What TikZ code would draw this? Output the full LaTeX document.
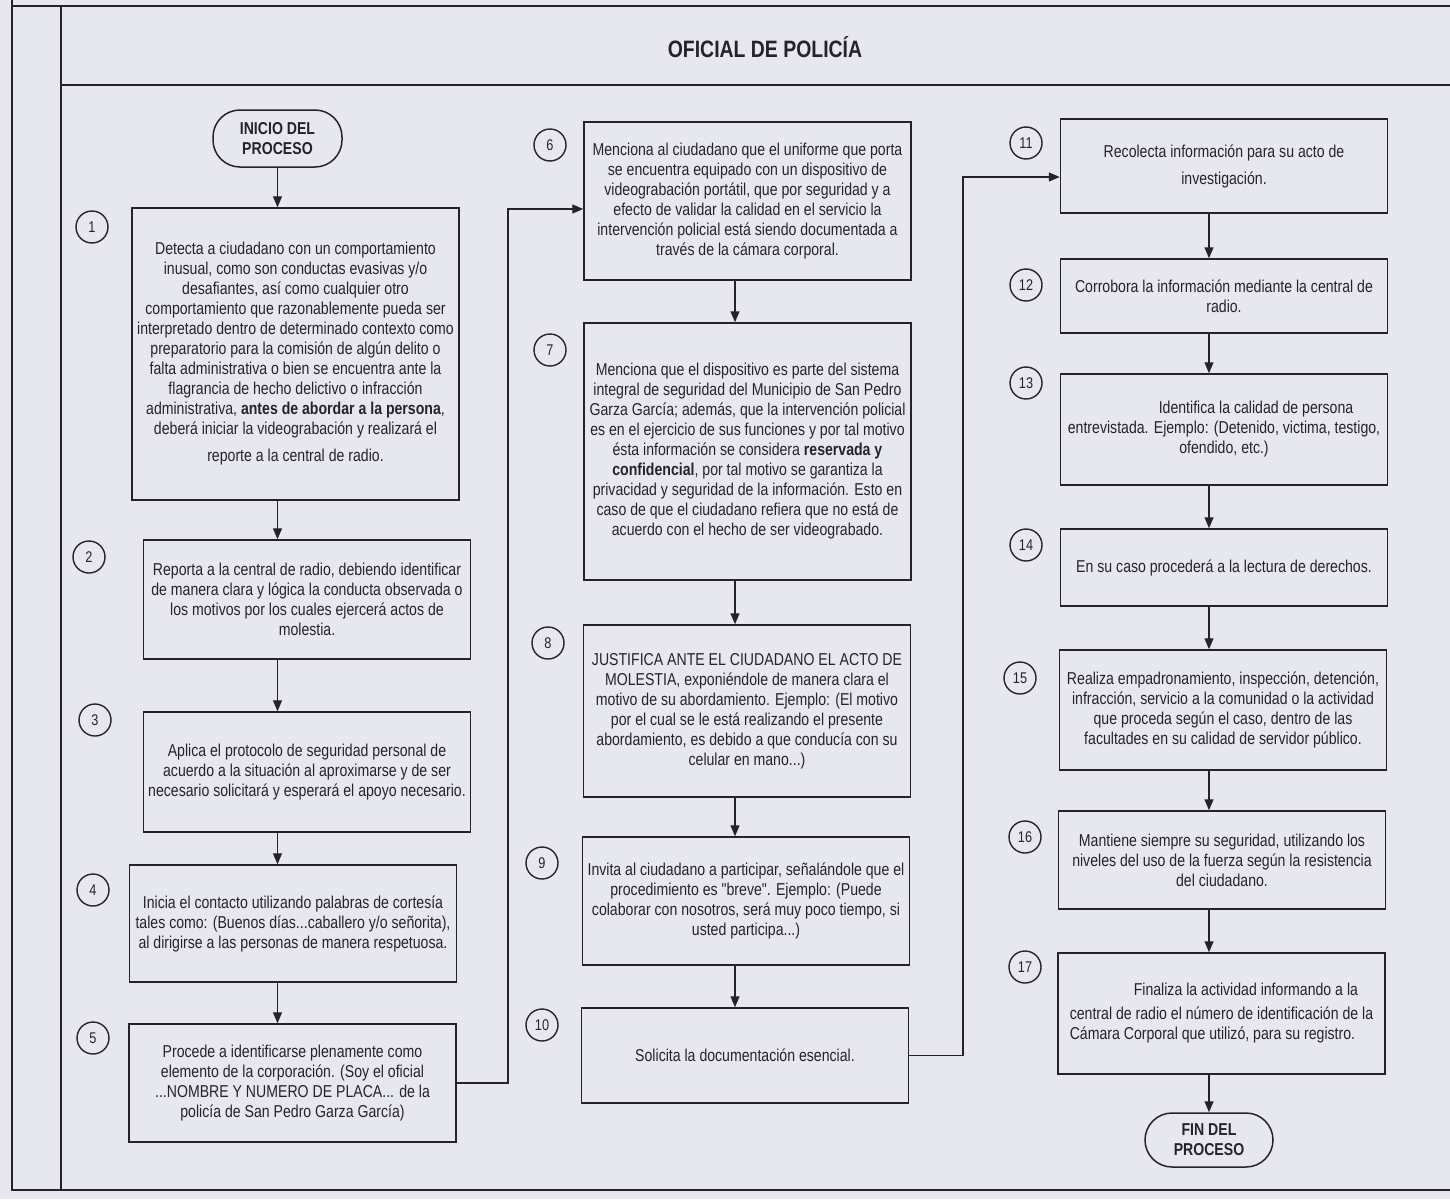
\documentclass[tikz,border=0pt]{standalone}
\usepackage{fontspec}
\setmainfont{Liberation Sans}[FakeStretch=0.82, Ligatures=TeXOff]
\usetikzlibrary{arrows.meta,calc}

\definecolor{fondo}{RGB}{231,231,239}
\definecolor{tinta}{RGB}{36,36,40}

\tikzset{
	paso/.style={draw=tinta, line width=1.5pt, minimum width=327pt, align=center,
		inner xsep=3pt, text=tinta, font=\fontsize{17.2}{20}\selectfont},
	num/.style={draw=tinta, circle, line width=1.4pt, minimum size=32pt, inner sep=0pt,
		text=tinta, font=\fontsize{15.5}{15.5}\selectfont},
	term/.style={draw=tinta, rounded corners=27pt, line width=1.5pt, align=center,
		minimum width=129pt, minimum height=57pt, text=tinta,
		font=\bfseries\fontsize{17.2}{20}\selectfont},
	flecha/.style={draw=tinta, line width=1.3pt, -{Triangle[length=11pt,width=9pt]}},
	marco/.style={draw=tinta, line width=1.8pt}
}

\begin{document}
\begin{tikzpicture}[x=1pt,y=-1pt]
	\useasboundingbox (0,0) rectangle (1450,1199);
	\fill[fondo] (0,0) rectangle (1450,1199);

	% marco de la lamina
	\draw[marco] (12,0) -- (12,1190) -- (1450,1190);
	\draw[marco] (12,6) -- (1450,6);
	\draw[marco] (61,6) -- (61,1190);
	\draw[marco] (61,85) -- (1450,85);
	\node[text=tinta, font=\bfseries\fontsize{23.7}{26}\selectfont] (titulo) at (765,47) {OFICIAL DE POLICÍA};

	% columna 1
	\node[term] (inicio) at (277.5,138.5) {INICIO DEL\\PROCESO};
	\node[paso, minimum height=292pt] (p1) at (295.5,354) {Detecta a ciudadano con un comportamiento\\
		inusual, como son conductas evasivas y/o\\
		desafiantes, así como cualquier otro\\
		comportamiento que razonablemente pueda ser\\
		interpretado dentro de determinado contexto como\\
		preparatorio para la comisión de algún delito o\\
		falta administrativa o bien se encuentra ante la\\
		flagrancia de hecho delictivo o infracción\\
		administrativa, \textbf{antes de abordar a la persona},\\
		deberá iniciar la videograbación y realizará el\\[7pt]
		reporte a la central de radio.};
	\node[paso, minimum height=119pt] (p2) at (307,599.5) {Reporta a la central de radio, debiendo identificar\\
		de manera clara y lógica la conducta observada o\\
		los motivos por los cuales ejercerá actos de\\
		molestia.};
	\node[paso, minimum height=120pt] (p3) at (307,772) {Aplica el protocolo de seguridad personal de\\
		acuerdo a la situación al aproximarse y de ser\\
		necesario solicitará y esperará el apoyo necesario.};
	\node[paso, minimum height=117pt] (p4) at (293,923.5) {Inicia el contacto utilizando palabras de cortesía\\
		tales como: (Buenos días...caballero y/o señorita),\\
		al dirigirse a las personas de manera respetuosa.};
	\node[paso, minimum height=118pt] (p5) at (292.5,1083) {Procede a identificarse plenamente como\\
		elemento de la corporación. (Soy el oficial\\
		...NOMBRE Y NUMERO DE PLACA... de la\\
		policía de San Pedro Garza García)};
	\node[num] (n1) at (92,227) {1};
	\node[num] (n2) at (89,557) {2};
	\node[num] (n3) at (95,720) {3};
	\node[num] (n4) at (93,890) {4};
	\node[num] (n5) at (93,1038) {5};

	% columna 2
	\coordinate (eje2) at (735,0);
	\node[paso, minimum height=158pt] (p6) at (747.5,201) {Menciona al ciudadano que el uniforme que porta\\
		se encuentra equipado con un dispositivo de\\
		videograbación portátil, que por seguridad y a\\
		efecto de validar la calidad en el servicio la\\
		intervención policial está siendo documentada a\\
		través de la cámara corporal.};
	\node[paso, minimum height=257pt] (p7) at (747.5,451.5) {Menciona que el dispositivo es parte del sistema\\
		integral de seguridad del Municipio de San Pedro\\
		Garza García; además, que la intervención policial\\
		es en el ejercicio de sus funciones y por tal motivo\\
		ésta información se considera \textbf{reservada y}\\
		\textbf{confidencial}, por tal motivo se garantiza la\\
		privacidad y seguridad de la información. Esto en\\
		caso de que el ciudadano refiera que no está de\\
		acuerdo con el hecho de ser videograbado.};
	\node[paso, minimum height=172pt] (p8) at (747,711) {JUSTIFICA ANTE EL CIUDADANO EL ACTO DE\\
		MOLESTIA, exponiéndole de manera clara el\\
		motivo de su abordamiento. Ejemplo: (El motivo\\
		por el cual se le está realizando el presente\\
		abordamiento, es debido a que conducía con su\\
		celular en mano...)};
	\node[paso, minimum height=128pt] (p9) at (746,901) {Invita al ciudadano a participar, señalándole que el\\
		procedimiento es "breve". Ejemplo: (Puede\\
		colaborar con nosotros, será muy poco tiempo, si\\
		usted participa...)};
	\node[paso, minimum height=95pt] (p10) at (745,1055.5) {Solicita la documentación esencial.};
	\node[num] (n6) at (550,145) {6};
	\node[num] (n7) at (550,350) {7};
	\node[num] (n8) at (548,643) {8};
	\node[num] (n9) at (542,863) {9};
	\node[num] (n10) at (542,1025) {10};

	% columna 3
	\node[paso, minimum height=94pt] (p11) at (1224,166) {Recolecta información para su acto de\\[7pt]
		investigación.};
	\node[paso, minimum height=74pt] (p12) at (1224,296) {Corrobora la información mediante la central de\\
		radio.};
	\node[paso, minimum height=111pt] (p13) at (1224,429.5) {\hspace*{64pt}Identifica la calidad de persona\\
		entrevistada. Ejemplo: (Detenido, victima, testigo,\\
		ofendido, etc.)};
	\node[paso, minimum height=77pt] (p14) at (1224,567.5) {En su caso procederá a la lectura de derechos.};
	\node[paso, minimum height=120pt] (p15) at (1223,710) {Realiza empadronamiento, inspección, detención,\\
		infracción, servicio a la comunidad o la actividad\\
		que proceda según el caso, dentro de las\\
		facultades en su calidad de servidor público.};
	\node[paso, minimum height=98pt] (p16) at (1222,860) {Mantiene siempre su seguridad, utilizando los\\
		niveles del uso de la fuerza según la resistencia\\
		del ciudadano.};
	\node[paso, minimum height=121pt, align=left] (p17) at (1221.5,1013.5) {\hspace*{64pt}Finaliza la actividad informando a la\\[4pt]
		central de radio el número de identificación de la\\
		Cámara Corporal que utilizó, para su registro.};
	\node[term, minimum width=128pt, minimum height=54pt] (fin) at (1209,1140) {FIN DEL\\PROCESO};
	\node[num] (n11) at (1026,143) {11};
	\node[num] (n12) at (1026,285) {12};
	\node[num] (n13) at (1026,383) {13};
	\node[num] (n14) at (1026,545) {14};
	\node[num] (n15) at (1020,678) {15};
	\node[num] (n16) at (1025,837) {16};
	\node[num] (n17) at (1025,967) {17};

	% flechas
	\draw[flecha] (inicio.south) -- (p1.north -| inicio);
	\draw[flecha] (p1.south -| inicio) -- (p2.north -| inicio);
	\draw[flecha] (p2.south -| inicio) -- (p3.north -| inicio);
	\draw[flecha] (p3.south -| inicio) -- (p4.north -| inicio);
	\draw[flecha] (p4.south -| inicio) -- (p5.north -| inicio);
	\coordinate (codo1) at (508,209);
	\draw[flecha] (p5.east) -| (codo1) -- (codo1 -| p6.west);
	\draw[flecha] (p6.south -| eje2) -- (p7.north -| eje2);
	\draw[flecha] (p7.south -| eje2) -- (p8.north -| eje2);
	\draw[flecha] (p8.south -| eje2) -- (p9.north -| eje2);
	\draw[flecha] (p9.south -| eje2) -- (p10.north -| eje2);
	\coordinate (codo2) at (963,177);
	\draw[flecha] (p10.east) -| (codo2) -- (codo2 -| p11.west);
	\draw[flecha] (p11.south -| fin) -- (p12.north -| fin);
	\draw[flecha] (p12.south -| fin) -- (p13.north -| fin);
	\draw[flecha] (p13.south -| fin) -- (p14.north -| fin);
	\draw[flecha] (p14.south -| fin) -- (p15.north -| fin);
	\draw[flecha] (p15.south -| fin) -- (p16.north -| fin);
	\draw[flecha] (p16.south -| fin) -- (p17.north -| fin);
	\draw[flecha] (p17.south -| fin) -- (fin.north);
\end{tikzpicture}
\end{document}
